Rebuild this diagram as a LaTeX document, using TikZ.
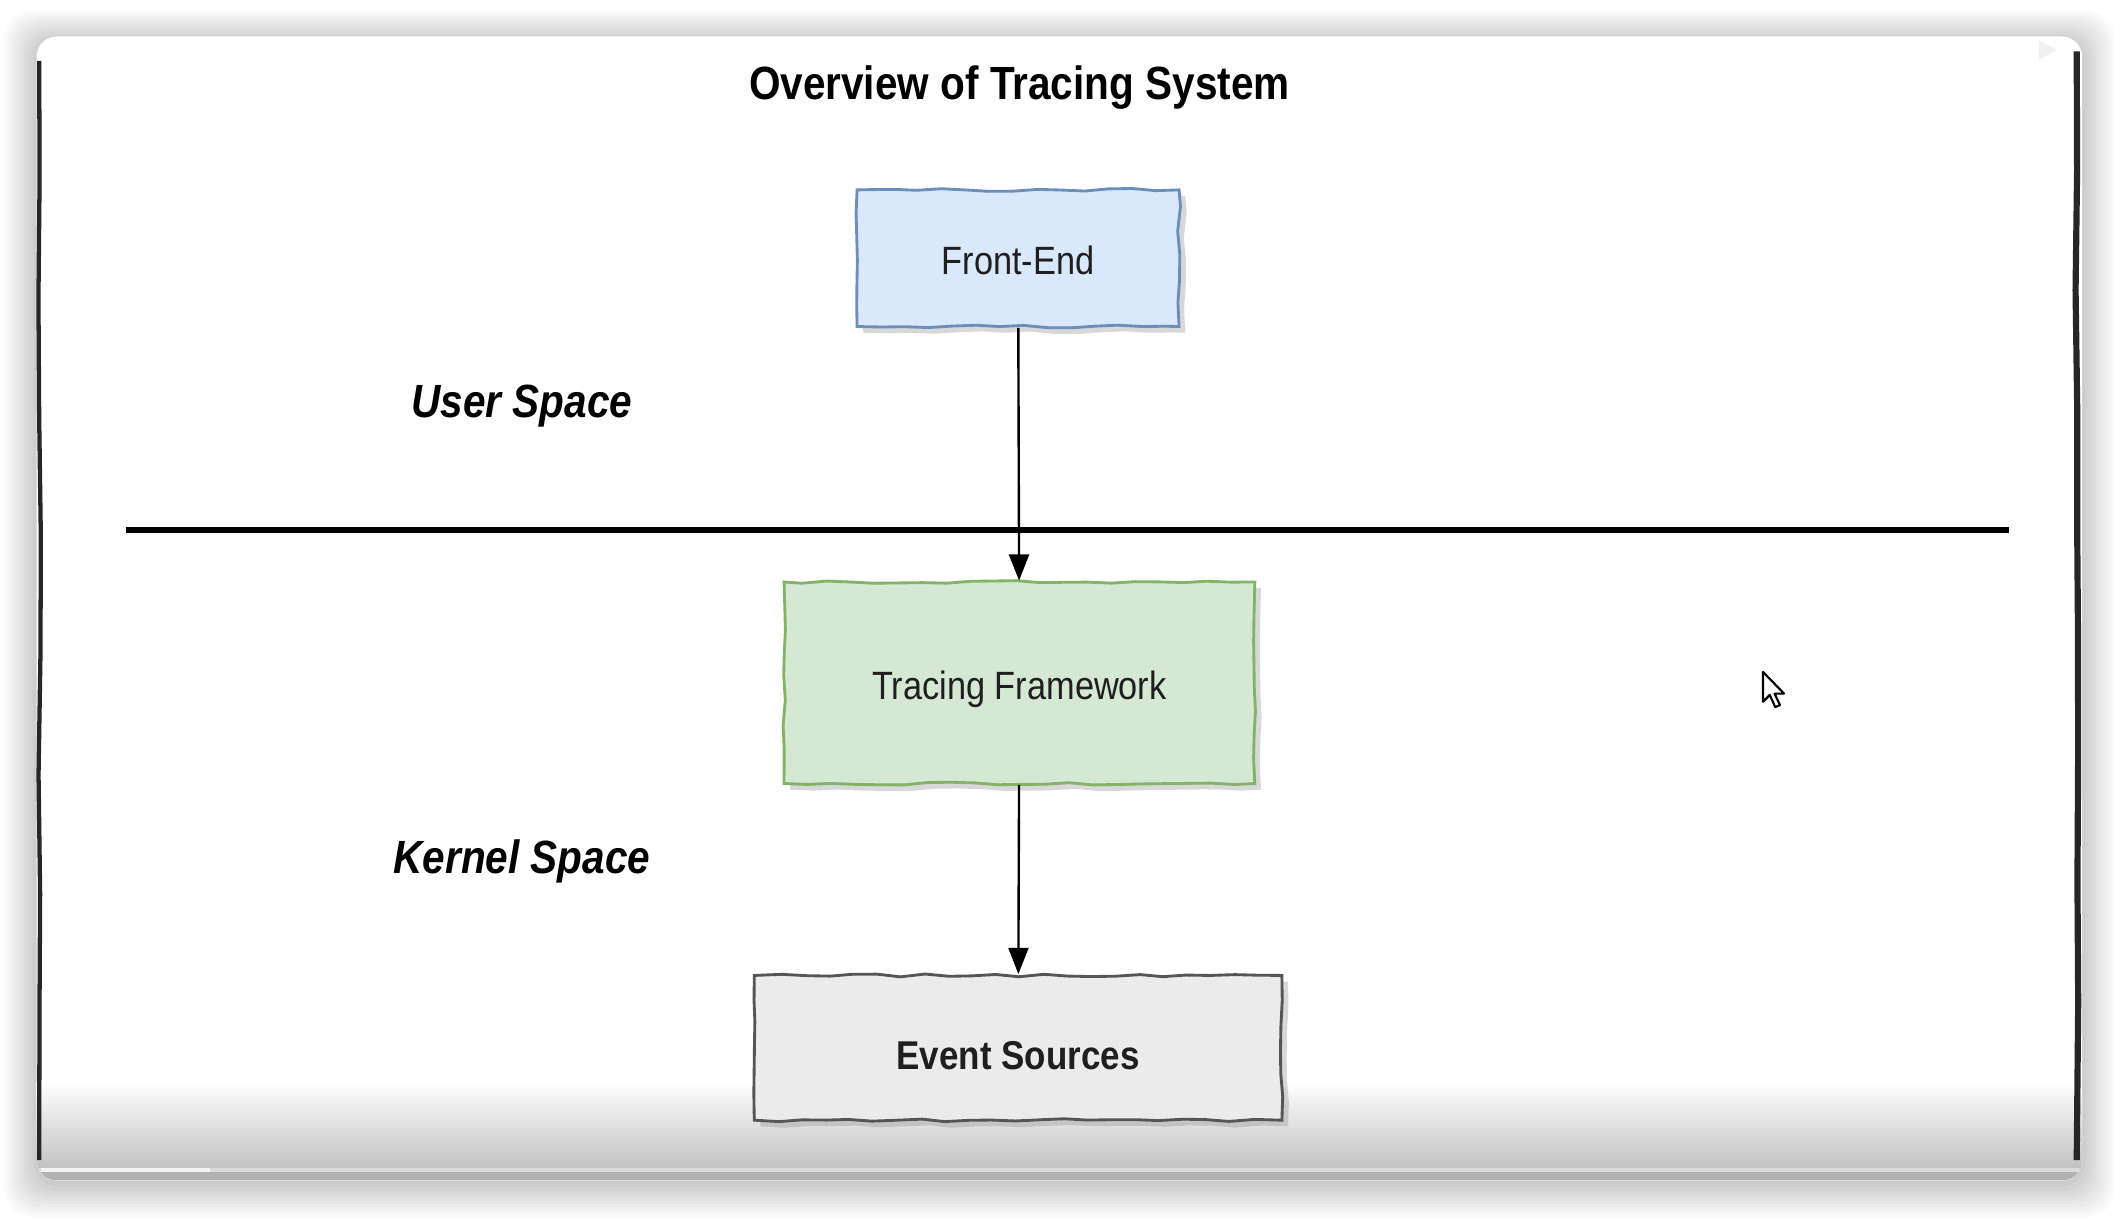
\documentclass[tikz,border=0pt]{standalone}
\usepackage{fontspec}
\setmainfont{Liberation Sans}[FakeStretch=0.87]
\usetikzlibrary{arrows.meta,shadows,decorations.pathmorphing,positioning}

\definecolor{feFill}{HTML}{DAE8FC}
\definecolor{feLine}{HTML}{6C8EBF}
\definecolor{tfFill}{HTML}{D5E8D4}
\definecolor{tfLine}{HTML}{82B366}
\definecolor{esFill}{HTML}{EBEBEB}
\definecolor{esLine}{HTML}{555555}

\begin{document}
\begin{tikzpicture}[x=0.01cm, y=-0.01cm,
box/.style = {shape=rectangle, draw, align=center, line width=0.6pt,
	text=black!88, font=\fontsize{8.3}{10}\selectfont,
	text height=0.8em, text depth=0.1em,
	decorate, decoration={random steps, segment length=5pt, amplitude=0.3pt},
	drop shadow={shadow xshift=1.3pt, shadow yshift=-1.3pt, opacity=0.3}},
space/.style = {font=\fontsize{9.8}{12}\selectfont\bfseries\itshape},
flow/.style = {-{Triangle[length=5.5pt,width=4.2pt]}, line width=0.5pt}]
\pgfmathsetseed{7}
\useasboundingbox (0,0) rectangle (1568,901);
\fill[white] (0,0) rectangle (1568,901);
% window shadow and panel
\foreach \i in {1,...,10}
	\fill[black, opacity=0.018, rounded corners=0.2cm] ({27-\i*2.4},{27-\i*2.2+3}) rectangle ({1540+\i*2.4},{873+\i*2.4+3});
\fill[white, rounded corners=0.15cm] (27,27) rectangle (1540,873);
\begin{scope}
	\clip[rounded corners=0.15cm] (27,27) rectangle (1540,873);
	\shade[top color=white, bottom color=black!24] (27,800) rectangle (1540,864);
	\fill[black!14] (27,864) rectangle (1540,867);
	\fill[black!30] (27,867) rectangle (1540,873);
	\fill[black!4] (30,864) rectangle (155,867);
\end{scope}
\draw[line width=0.9pt, black!85, decorate, decoration={random steps, segment length=25pt, amplitude=0.35pt}] (29,45) -- (29,858);
\draw[line width=1.3pt, black!85, decorate, decoration={random steps, segment length=25pt, amplitude=0.35pt}] (1536,38) -- (1536,858);
\fill[black!6] (1508,30) -- (1508,44) -- (1521,37) -- cycle;

\node[font=\fontsize{9.8}{12}\selectfont\bfseries] (title) at (754,65) {Overview of Tracing System};
\node[box, fill=feFill, draw=feLine, minimum width=2.38cm, minimum height=1.01cm] (frontend) at (753,191) {Front-End};
\node[box, fill=tfFill, draw=tfLine, minimum width=3.48cm, minimum height=1.49cm] (tracing) at (754,505) {Tracing Framework};
\node[box, fill=esFill, draw=esLine, minimum width=3.90cm, minimum height=1.07cm, font=\fontsize{8.45}{10}\selectfont\bfseries, text height=0.9em, text depth=0pt] (events) at (753,775) {Event Sources};
\node[space] (user) at (386,300) {User Space};
\node[space] (kernel) at (386,637) {Kernel Space};

% boundary between the spaces
\coordinate (divL) at (93,392);
\coordinate (divR) at (1486,392);
\draw[line width=1.15pt] (divL) -- (divR);

\draw[flow] (frontend) -- (tracing);
\draw[flow] (tracing) -- (events);

% mouse pointer
\draw[black, line width=0.45pt, fill=white, line join=round] (1304,497) -- ++(0,22) -- ++(5,-5) -- ++(4,9) -- ++(3.5,-1.5) -- ++(-4,-8.5) -- ++(7,0) -- cycle;
\end{tikzpicture}
\end{document}
